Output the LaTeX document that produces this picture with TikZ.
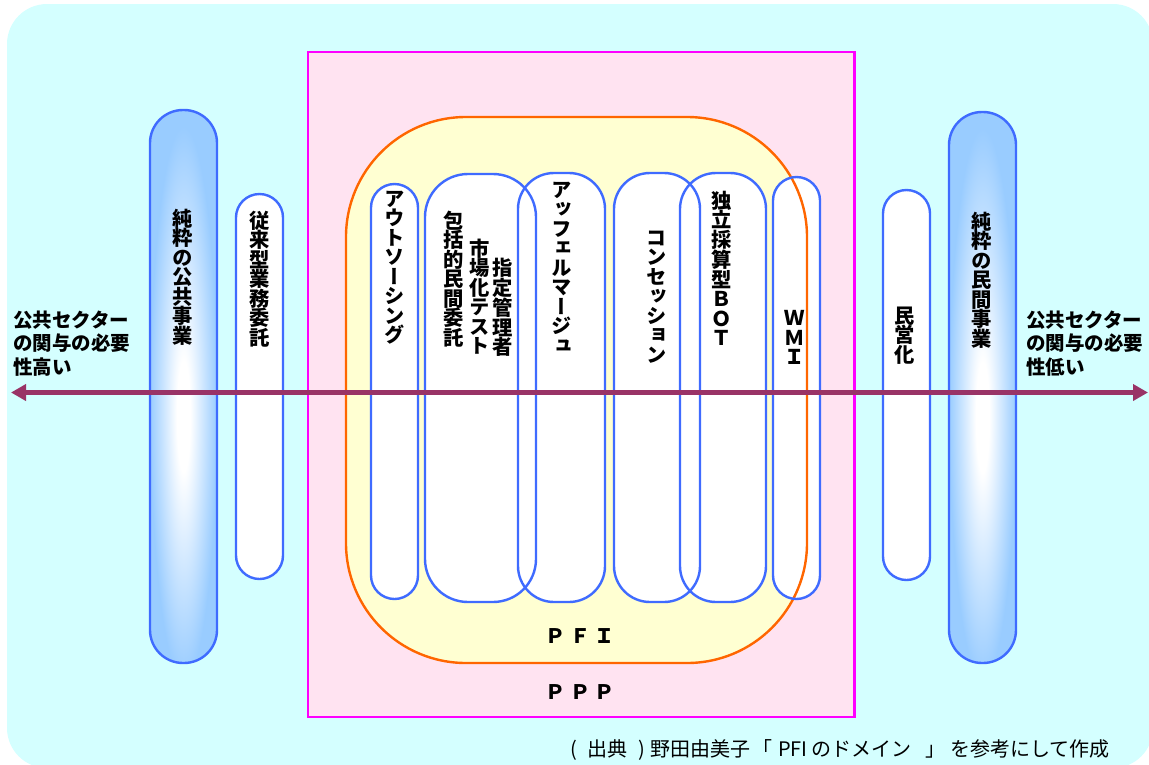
\documentclass[tikz,border=0pt]{standalone}
\usepackage{fontspec}
\newfontfamily\jp{Noto Sans CJK JP}
\newfontfamily\jpv{Noto Sans CJK JP}[RawFeature=+vert]
\usetikzlibrary{arrows.meta}
\definecolor{bgcyan}{HTML}{D4FFFF}
\definecolor{pppfill}{HTML}{FFE3F1}
\definecolor{pppline}{HTML}{FF00FF}
\definecolor{pfifill}{HTML}{FFFFD2}
\definecolor{pfiline}{HTML}{FF6600}
\definecolor{pillstroke}{HTML}{3F6BFF}
\definecolor{pillblue}{HTML}{99CCFF}
\definecolor{arrowc}{HTML}{993366}
\pgfdeclareradialshading{pillshade}{\pgfpoint{0bp}{-3bp}}{color(0bp)=(white); color(5bp)=(white); color(25bp)=(pillblue); color(50bp)=(pillblue)}
\newcommand\putat[2]{\rlap{\hspace*{#1pt}#2}}
\begin{document}
\begin{tikzpicture}[x=1pt,y=-1pt,
  pillline/.style={draw=pillstroke, line width=2.4pt},
  vlabel/.style={font=\jpv\bfseries\fontsize{20.3}{19.5}\selectfont, align=center, inner sep=0pt, anchor=north},
  hlabel/.style={font=\jp\bfseries\fontsize{19.5}{23.5}\selectfont, align=left, inner sep=0pt, anchor=north west},
  biglabel/.style={font=\jp\bfseries\fontsize{20}{22}\selectfont, inner sep=0pt},
  srclabel/.style={font=\jp\fontsize{20}{22}\selectfont, inner sep=0pt, anchor=west},
  tipc/.tip={Triangle[length=15pt,width=16pt]}
]
\useasboundingbox (0,0) rectangle (1149,764);
% background
\fill[bgcyan, rounded corners=40] (7,4) rectangle (1153,768);
% PPP
\filldraw[fill=pppfill, draw=pppline, line width=2.4pt] (308,52) rectangle (854.5,717);
% PFI fill
\fill[pfifill, rounded corners=120] (346,117) rectangle (807,663);
% white pill fills
\foreach \a/\b/\c/\d/\r in {236/194/283/579/23.5, 883/190/930/580/23.5,
  371/184/418/599/23.5, 425/174/536/602/43, 518/173/605/602/36,
  614/173/700/602/36, 680/173/766/602/36, 773/177/820/599/23.5}
  \fill[white, rounded corners=\r] (\a,\b) rectangle (\c,\d);
% PFI outline
\draw[pfiline, line width=2.4pt, rounded corners=120] (346,117) rectangle (807,663);
% white pill outlines
\foreach \a/\b/\c/\d/\r in {236/194/283/579/23.5, 883/190/930/580/23.5,
  371/184/418/599/23.5, 425/174/536/602/43, 518/173/605/602/36,
  614/173/700/602/36, 680/173/766/602/36, 773/177/820/599/23.5}
  \draw[pillline, rounded corners=\r] (\a,\b) rectangle (\c,\d);
% blue gradient pills
\shade[shading=pillshade, rounded corners=33] (150,110) rectangle (217,663);
\draw[pillline, rounded corners=33] (150,110) rectangle (217,663);
\shade[shading=pillshade, rounded corners=33] (949,112) rectangle (1016,663);
\draw[pillline, rounded corners=33] (949,112) rectangle (1016,663);
% vertical labels
\node[vlabel] (pubpure) at (183,208.5) {純\\粋\\の\\公\\共\\事\\業};
\node[vlabel] (trad) at (259.5,210.5) {従\\来\\型\\業\\務\\委\\託};
\node[vlabel] (outs) at (394.5,190.5) {ア\\ウ\\ト\\ソ\\ー\\シ\\ン\\グ};
\node[vlabel] (hokatsu) at (454,210.5) {包\\括\\的\\民\\間\\委\\託};
\node[vlabel] (shijo) at (480,238.5) {市\\場\\化\\テ\\ス\\ト};
\node[vlabel] (shitei) at (503,258) {指\\定\\管\\理\\者};
\node[vlabel] (affer) at (562,181.5) {ア\\ッ\\フ\\ェ\\ル\\マ\\ー\\ジ\\ュ};
\node[vlabel] (conc) at (657,230.5) {コ\\ン\\セ\\ッ\\シ\\ョ\\ン};
\node[vlabel] (bot) at (722,190.5) {独\\立\\採\\算\\型\\Ｂ\\Ｏ\\Ｔ};
\node[vlabel] (wmi) at (795,310.5) {Ｗ\\Ｍ\\Ｉ};
\node[vlabel] (mineika) at (905,306.5) {民\\営\\化};
\node[vlabel] (privpure) at (982,211.5) {純\\粋\\の\\民\\間\\事\\業};
% side labels
\node[hlabel] (lefttxt) at (13,310.5) {公共セクター\\の関与の必要\\性高い};
\node[hlabel] (righttxt) at (1026,310.5) {公共セクター\\の関与の必要\\性低い};
% PFI / PPP
\node[biglabel] (pfi) at (580,636) {Ｐ\kern4.5pt Ｆ\kern4.5pt Ｉ};
\node[biglabel] (ppp) at (580,692) {Ｐ\kern4.5pt Ｐ\kern4.5pt Ｐ};
% arrow
\coordinate (al) at (11,392.5);
\coordinate (ar) at (1148,392.5);
\draw[arrowc, line width=4.5pt, tipc-tipc] (al) -- (ar);
% source
\node[srclabel] (src) at (570,750) {\putat{0}{(}\putat{17}{出典}\putat{68}{)}\putat{80}{野田由美子}\putat{182}{「}\putat{208}{PFI}\putat{241}{のドメイン}\putat{355}{」}\putat{380}{を参考にして作成}\hspace*{542pt}};
\end{tikzpicture}
\end{document}
